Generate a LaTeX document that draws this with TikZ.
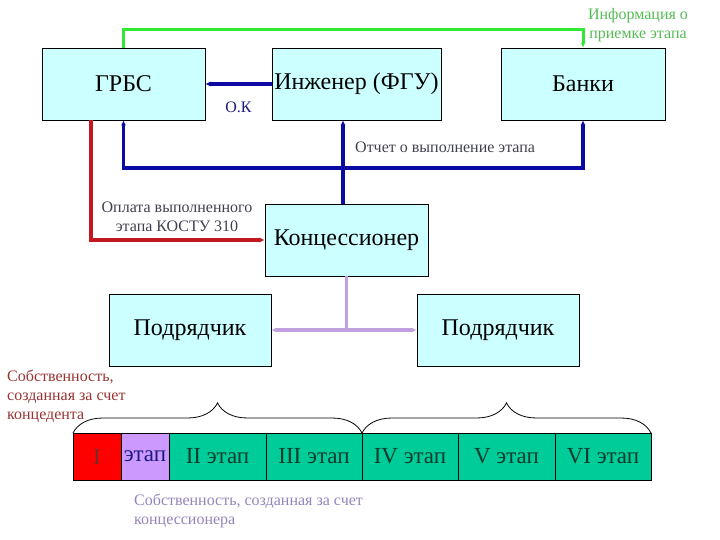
\documentclass[tikz,border=0pt]{standalone}
\usepackage{fontspec}
\setmainfont{Liberation Serif}
\usetikzlibrary{positioning,arrows.meta,decorations.pathreplacing}

\definecolor{boxfill}{HTML}{CCFFFF}
\definecolor{infogreen}{HTML}{33E833}
\definecolor{infotext}{HTML}{55BB55}
\definecolor{okblue}{HTML}{0A0AA5}
\definecolor{oktext}{HTML}{1A1A80}
\definecolor{payred}{HTML}{C41820}
\definecolor{forkpurple}{HTML}{C0A0E0}
\definecolor{notegray}{HTML}{404050}
\definecolor{ownred}{HTML}{993333}
\definecolor{ownpurple}{HTML}{9484B8}
\definecolor{stagered}{HTML}{FF0000}
\definecolor{stagepurple}{HTML}{CC99FF}
\definecolor{stagegreen}{HTML}{00CC99}
\definecolor{stagetext}{HTML}{0B3B2B}

\begin{document}
\begin{tikzpicture}[x=1pt,y=-1pt,
  box/.style={draw=black, line width=0.8pt, fill=boxfill, minimum width=163pt,
    minimum height=72pt, inner sep=0pt, font=\fontsize{24}{28}\selectfont},
  cell/.style={draw=black, line width=0.8pt, minimum height=47pt, inner sep=0pt,
    outer sep=0pt, font=\fontsize{23}{26}\selectfont, text=stagetext},
  link/.style={line width=3.5pt, -{Latex[length=5pt,width=5pt]}},
  note/.style={font=\fontsize{16}{19}\selectfont, align=left, inner sep=0pt},
  ]

  \useasboundingbox (0,0) rectangle (720,540);

  % Boxes
  \node[box] (grbs) at (123.5,84) {ГРБС};
  \node[box, minimum width=169pt] (eng) at (356.5,84) {Инженер (ФГУ)};
  \node[box, minimum width=164pt] (bank) at (583,84) {Банки};
  \node[box] (conc) at (346.5,240) {Концессионер};
  \node[box, minimum width=162pt] (subL) at (190,330) {Подрядчик};
  \node[box, minimum width=162pt] (subR) at (498,330) {Подрядчик};

  % Info about accepted stage
  \draw[link, draw=infogreen, line width=3pt] (grbs.north) -- ++(0,-18) -| (bank.north);
  \node[note, text=infotext, align=center] (info) at (638,25) {Информация о\\приемке этапа};

  % O.K
  \draw[link, draw=okblue] (eng.west) -- (grbs.east)
    node[note, text=oktext, midway, yshift=-23pt] {О.К};

  % Stage report
  \coordinate (hub) at (343,168);
  \draw[link, draw=okblue] (conc.north -| hub) -- (eng.south -| hub);
  \draw[link, draw=okblue] (hub) -| (grbs.south);
  \draw[link, draw=okblue] (hub) -| (bank.south);
  \node[note, text=notegray, anchor=west] (rep) at (355,147) {Отчет о выполнение этапа};

  % Payment
  \draw[link, draw=payred] ([xshift=-32.5pt]grbs.south) |- (conc.west);
  \node[note, text=notegray, align=center] (pay) at (177,217) {Оплата выполненного\\этапа КОСТУ 310};

  % Contractors
  \coordinate (fork) at (conc.south |- subL.east);
  \draw[line width=3.5pt, draw=forkpurple] (conc.south) -- (fork);
  \draw[link, draw=forkpurple] (fork) -- (subL.east);
  \draw[link, draw=forkpurple] (fork) -- (subR.west);

  % Stages bar
  \node[cell, fill=stagered, text=ownred!80!black, minimum width=48pt, anchor=north west] (cI) at (73,433) {I};
  \node[cell, fill=stagepurple, text=oktext, minimum width=48pt, right=0pt of cI] (cIb) {этап};
  \node[cell, fill=stagegreen, minimum width=97pt, right=0pt of cIb] (cII) {II этап};
  \node[cell, fill=stagegreen, minimum width=96pt, right=0pt of cII] (cIII) {III этап};
  \node[cell, fill=stagegreen, minimum width=96pt, right=0pt of cIII] (cIV) {IV этап};
  \node[cell, fill=stagegreen, minimum width=97pt, right=0pt of cIV] (cV) {V этап};
  \node[cell, fill=stagegreen, minimum width=96pt, right=0pt of cV] (cVI) {VI этап};

  % Braces
  \draw[decorate, decoration={brace, amplitude=30pt}, line width=0.8pt] (cI.north west) -- (cIII.north east);
  \draw[decorate, decoration={brace, amplitude=30pt}, line width=0.8pt] (cIV.north west) -- (cVI.north east);

  % Ownership notes
  \node[note, text=ownred, anchor=north west] (ownL) at (7,370) {Собственность,\\созданная за счет\\концедента};
  \node[note, text=ownpurple, anchor=north west] (ownR) at (134,494) {Собственность, созданная за счет\\концессионера};
\end{tikzpicture}
\end{document}
